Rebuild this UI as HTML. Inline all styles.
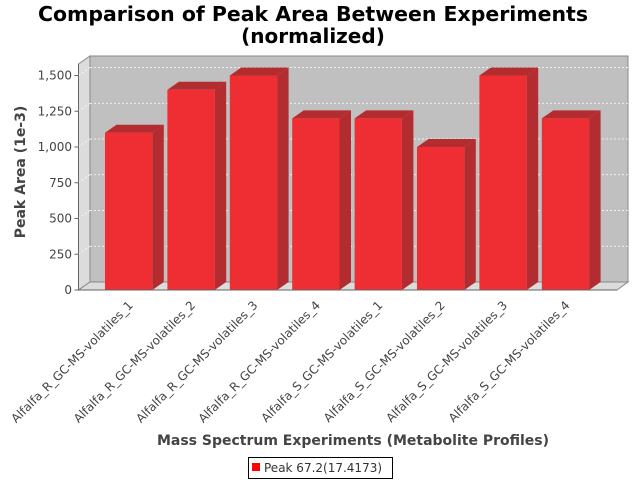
<!DOCTYPE html>
<html><head><meta charset="utf-8"><style>body{margin:0;background:#fff}svg{display:block;font-family:"DejaVu Sans","Liberation Sans",sans-serif}</style></head>
<body>
<svg id="chart" width="640" height="480" viewBox="0 0 640 480" xmlns="http://www.w3.org/2000/svg">
<rect width="640" height="480" fill="#fff"/>
<text x="313" y="21" text-anchor="middle" font-size="20" font-weight="bold" textLength="550" lengthAdjust="spacingAndGlyphs">Comparison of Peak Area Between Experiments</text>
<text x="313" y="43" text-anchor="middle" font-size="20" font-weight="bold">(normalized)</text>
<polygon points="90,56 628,56 628,282 90,282" fill="#c0c0c0" stroke="#888" stroke-width="1"/>
<polygon points="78.5,64 90,56 90,282 78.5,290" fill="#dcdcdc" stroke="#888" stroke-width="1"/>
<polygon points="78.5,290 90,282 628,282 617,290" fill="#dcdcdc" stroke="#888" stroke-width="1"/>
<g id="grid"></g>
<g id="bars"></g>
<line x1="78.5" y1="64" x2="78.5" y2="290" stroke="#666"/>
<line x1="78.5" y1="290" x2="617" y2="290" stroke="#666"/>
<g id="yticks"></g>
<g id="xlabels"></g>
<text transform="translate(25,172) rotate(-90)" text-anchor="middle" font-size="14" font-weight="bold" fill="#444">Peak Area (1e-3)</text>
<text x="353" y="445" text-anchor="middle" font-size="14" font-weight="bold" fill="#444">Mass Spectrum Experiments (Metabolite Profiles)</text>
<g>
<rect x="248.5" y="457.5" width="144" height="21" fill="#fff" stroke="#000"/>
<rect x="252" y="463" width="8" height="8" fill="#f00"/>
<text x="264" y="472" font-size="12" fill="#333">Peak 67.2(17.4173)</text>
</g>
<script>
const categories=["Alfalfa_R_GC-MS-volatiles_1","Alfalfa_R_GC-MS-volatiles_2","Alfalfa_R_GC-MS-volatiles_3","Alfalfa_R_GC-MS-volatiles_4","Alfalfa_S_GC-MS-volatiles_1","Alfalfa_S_GC-MS-volatiles_2","Alfalfa_S_GC-MS-volatiles_3","Alfalfa_S_GC-MS-volatiles_4"];
const values=[1100,1400,1500,1200,1200,1000,1500,1200];
const tickValues=[0,250,500,750,1000,1250,1500];
const tickLabels=["0","250","500","750","1,000","1,250","1,500"];
const NS="http://www.w3.org/2000/svg";
const y0=290,yMax=1500,yPix=214.5,dx=11.5,dy=8;
function yS(v){return y0-v/yMax*yPix;}
function xS(i){return 105+i*62.4;}
const bw=47.3;
function mk(t,a,p){const e=document.createElementNS(NS,t);for(const k in a)e.setAttribute(k,a[k]);p.appendChild(e);return e;}
const grid=document.getElementById('grid'),yt=document.getElementById('yticks'),bars=document.getElementById('bars'),xl=document.getElementById('xlabels');
tickValues.forEach((v,i)=>{
  const y=yS(v);
  if(v>0){const g=mk('line',{x1:90,y1:y-dy,x2:628,y2:y-dy,stroke:'#fff','stroke-dasharray':'2,2','stroke-width':0.8},grid);
  
  
  const g2=mk('line',{x1:78.5,y1:y,x2:90,y2:y-dy,stroke:'#fff','stroke-dasharray':'2,2','stroke-width':0.8},grid);
  
  }
  const tk=mk('line',{x1:74.5,y1:y,x2:78.5,y2:y,stroke:'#666'},yt);
  
  
  const t=mk('text',{x:72,y:y+4,'text-anchor':'end','font-size':12,fill:'#444'},yt);
  t.textContent=tickLabels[i];
  
  
});
values.forEach((v,i)=>{
  const x=xS(i),y=yS(v),g=mk('g',{},bars);
  
  
  mk('polygon',{points:`${x+bw},${y} ${x+bw+dx},${y-dy} ${x+bw+dx},${y0-dy} ${x+bw},${y0}`,fill:'#b22c30'},g);
  mk('polygon',{points:`${x},${y} ${x+dx},${y-dy} ${x+bw+dx},${y-dy} ${x+bw},${y}`,fill:'#b22c30'},g);
  mk('rect',{x:x,y:y,width:bw,height:y0-y,fill:'#ee2e32'},g);
  const cx=x+bw/2+5;
  const t=mk('text',{transform:`translate(${cx},306) rotate(-45)`,'text-anchor':'end','font-size':12,fill:'#444'},xl);
  t.textContent=categories[i];
  
  
});
</script>
</svg>
</body></html>
